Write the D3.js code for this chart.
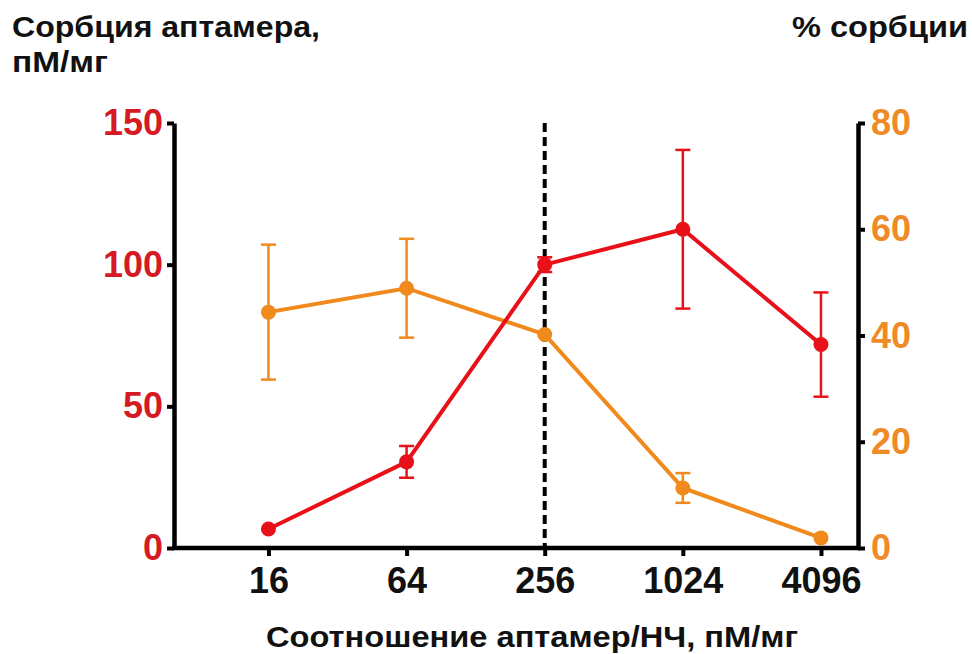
<!DOCTYPE html>
<html>
<head>
<meta charset="utf-8">
<script src="https://cdn.jsdelivr.net/npm/d3@7"></script>
<style>
  body { margin: 0; background: #fff; }
  text { font-family: "Liberation Sans", Arial, sans-serif; font-weight: bold; }
</style>
</head>
<body>
<div id="chart"></div>
<script>
// ratio aptamer / NP, pM/mg
var ratios = [16, 64, 256, 1024, 4096];
// aptamer sorption, pM/mg (left axis)
var sorption = [6.7, 30.4, 100, 112.5, 71.8];
var sorptionErr = [0, 5.6, 2.6, 28, 18.4];
// % sorption (right axis)
var percent = [44.4, 48.9, 40.2, 11.3, 1.9];
var percentErr = [12.7, 9.3, 0, 2.8, 0];
var leftTicks = [0, 50, 100, 150];
var rightTicks = [0, 20, 40, 60, 80];
var markerRatio = 256;

var width = 972, height = 654;
var plotL = 174, plotR = 858, plotT = 123, plotB = 548;

var red = '#e8111a', redText = '#d61a24';
var orange = '#f08a1c', orangeText = '#ef8b27';

var svg = d3.select('#chart').append('svg')
    .attr('width', width)
    .attr('height', height);

var x = d3.scaleLog().base(2)
    .domain([6.2, 5940])
    .range([plotL, plotR]);

var yL = d3.scaleLinear().domain([0, 150]).range([plotB, plotT]);
var yR = d3.scaleLinear().domain([0, 80]).range([plotB, plotT]);

// dashed reference line
svg.append('line')
    .attr('x1', x(markerRatio)).attr('x2', x(markerRatio))
    .attr('y1', yL(150)).attr('y2', yL(0))
    .attr('stroke', '#000')
    .attr('stroke-width', 4)
    .attr('stroke-dasharray', '9,5');

// axes
var axisL = svg.append('g')
    .attr('transform', 'translate(' + plotL + ',0)')
    .call(d3.axisLeft(yL).tickValues(leftTicks).tickSize(7).tickPadding(4).tickSizeOuter(0));
axisL.selectAll('text').attr('fill', redText).style('font-size', '36px');

var axisR = svg.append('g')
    .attr('transform', 'translate(' + plotR + ',0)')
    .call(d3.axisRight(yR).tickValues(rightTicks).tickSize(7).tickPadding(6).tickSizeOuter(0));
axisR.selectAll('text').attr('fill', orangeText).style('font-size', '36px');

var axisB = svg.append('g')
    .attr('transform', 'translate(0,' + plotB + ')')
    .call(d3.axisBottom(x).tickValues(ratios).tickFormat(d3.format('d')).tickSize(8).tickPadding(11).tickSizeOuter(0));
axisB.selectAll('text').attr('fill', '#111').style('font-size', '36px');

svg.selectAll('.domain').attr('stroke', '#000').attr('stroke-width', 4.5);
svg.selectAll('.tick line').attr('stroke', '#000').attr('stroke-width', 4);
axisB.select('.domain').attr('d', 'M' + (plotL - 2) + ',0H' + (plotR + 2));

// series
function drawSeries(vals, errs, y, color) {
  var g = svg.append('g');
  var pts = ratios.map(function(r, i) { return {r: r, v: vals[i], e: errs[i]}; });
  var withErr = pts.filter(function(d) { return d.e > 0; });
  g.selectAll('.eb').data(withErr).enter().append('line')
      .attr('x1', function(d) { return x(d.r); })
      .attr('x2', function(d) { return x(d.r); })
      .attr('y1', function(d) { return y(d.v + d.e); })
      .attr('y2', function(d) { return y(d.v - d.e); })
      .attr('stroke', color).attr('stroke-width', 2.5);
  [1, -1].forEach(function(s) {
    g.selectAll('.cap' + s).data(withErr).enter().append('line')
        .attr('x1', function(d) { return x(d.r) - 7.5; })
        .attr('x2', function(d) { return x(d.r) + 7.5; })
        .attr('y1', function(d) { return y(d.v + s * d.e); })
        .attr('y2', function(d) { return y(d.v + s * d.e); })
        .attr('stroke', color).attr('stroke-width', 2.5);
  });
  g.append('path')
      .datum(pts)
      .attr('fill', 'none')
      .attr('stroke', color)
      .attr('stroke-width', 4)
      .attr('d', d3.line().x(function(d) { return x(d.r); }).y(function(d) { return y(d.v); }));
  g.selectAll('circle').data(pts).enter().append('circle')
      .attr('cx', function(d) { return x(d.r); })
      .attr('cy', function(d) { return y(d.v); })
      .attr('r', 7.5)
      .attr('fill', color);
}
drawSeries(percent, percentErr, yR, orange);
drawSeries(sorption, sorptionErr, yL, red);

// titles
function title(txt, xPos, yPos, anchor, len) {
  svg.append('text').attr('x', xPos).attr('y', yPos)
      .attr('text-anchor', anchor)
      .attr('textLength', len).attr('lengthAdjust', 'spacingAndGlyphs')
      .style('font-size', '29px').attr('fill', '#111')
      .text(txt);
}
title('Сорбция аптамера,', 12, 37, 'start', 308);
title('пМ/мг', 12, 72, 'start', 96);
title('% сорбции', 968, 37, 'end', 176);
title('Соотношение аптамер/НЧ, пМ/мг', 532, 647, 'middle', 532);
</script>
</body>
</html>
